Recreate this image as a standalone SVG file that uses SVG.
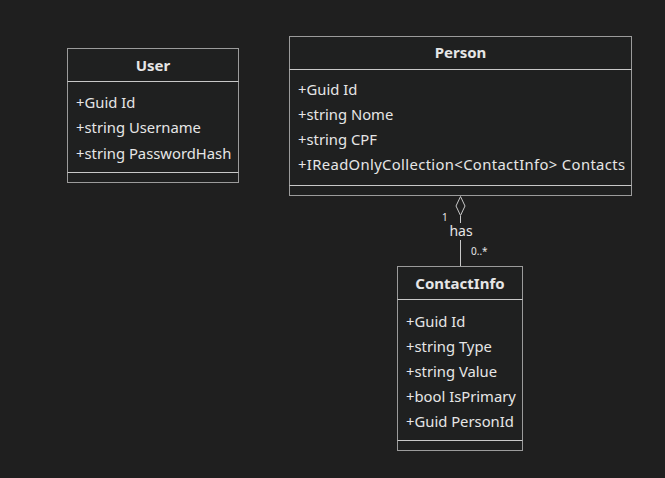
<svg xmlns="http://www.w3.org/2000/svg" width="665" height="478" viewBox="0 0 665 478">
<style>
.bg{fill:#1f1f1f}
.box{fill:#1f2020;stroke:#9b9b9b;stroke-width:1}
.div{stroke:#c8c8c8;stroke-width:1}
.t{font-family:"Noto Sans","Open Sans",sans-serif;font-size:14.8px;fill:#e6e6e6}
.h{font-family:"Noto Sans","Open Sans",sans-serif;font-size:15px;font-weight:bold;fill:#e6e6e6;text-anchor:middle}
.edge{stroke:#c8c8c8;stroke-width:1;fill:none}
.lbl{font-family:"Noto Sans","Open Sans",sans-serif;font-size:14px;fill:#e6e6e6;text-anchor:middle}
.sm{font-family:"Noto Sans","Open Sans",sans-serif;font-size:10px;fill:#e6e6e6}
</style>
<rect class="bg" x="0" y="0" width="665" height="478"/>
<g id="connectors">
<path class="edge" d="M460.5 216 V223 M460.5 240 V266"/>
<polygon points="460.5,196.5 465,206 460.5,215.5 456,206" fill="#1f1f1f" stroke="#c8c8c8"/>
<text class="lbl" x="461" y="236">has</text>
<text class="sm" x="442" y="221" fill="#e8c070">1</text>
<text class="sm" x="471" y="255">0..*</text>
</g>
<g id="User">
<rect class="box" x="67.5" y="48.5" width="171" height="134"/>
<line class="div" x1="67.5" y1="81.5" x2="238.5" y2="81.5"/>
<line class="div" x1="67.5" y1="172.5" x2="238.5" y2="172.5"/>
<text class="h" x="153" y="71">User</text>
<text class="t" x="76" y="107.5">+Guid Id</text>
<text class="t" x="76" y="133">+string Username</text>
<text class="t" x="76" y="158.5">+string PasswordHash</text>
</g>
<g id="Person">
<rect class="box" x="289.5" y="36.5" width="342" height="159"/>
<line class="div" x1="289.5" y1="69.5" x2="631.5" y2="69.5"/>
<line class="div" x1="289.5" y1="185.5" x2="631.5" y2="185.5"/>
<text class="h" x="460.5" y="58">Person</text>
<text class="t" x="298" y="94.5">+Guid Id</text>
<text class="t" x="298" y="119.5">+string Nome</text>
<text class="t" x="298" y="144.5">+string CPF</text>
<text class="t" x="298" y="169.5" textLength="327" lengthAdjust="spacing">+IReadOnlyCollection&lt;ContactInfo&gt; Contacts</text>
</g>
<g id="ContactInfo">
<rect class="box" x="397.5" y="266.5" width="125" height="184"/>
<line class="div" x1="397.5" y1="299.5" x2="522.5" y2="299.5"/>
<line class="div" x1="397.5" y1="440.5" x2="522.5" y2="440.5"/>
<text class="h" x="460" y="288.5">ContactInfo</text>
<text class="t" x="406" y="326.5">+Guid Id</text>
<text class="t" x="406" y="351.5">+string Type</text>
<text class="t" x="406" y="376.5">+string Value</text>
<text class="t" x="406" y="401.5">+bool IsPrimary</text>
<text class="t" x="406" y="426.5">+Guid PersonId</text>
</g>
</svg>
